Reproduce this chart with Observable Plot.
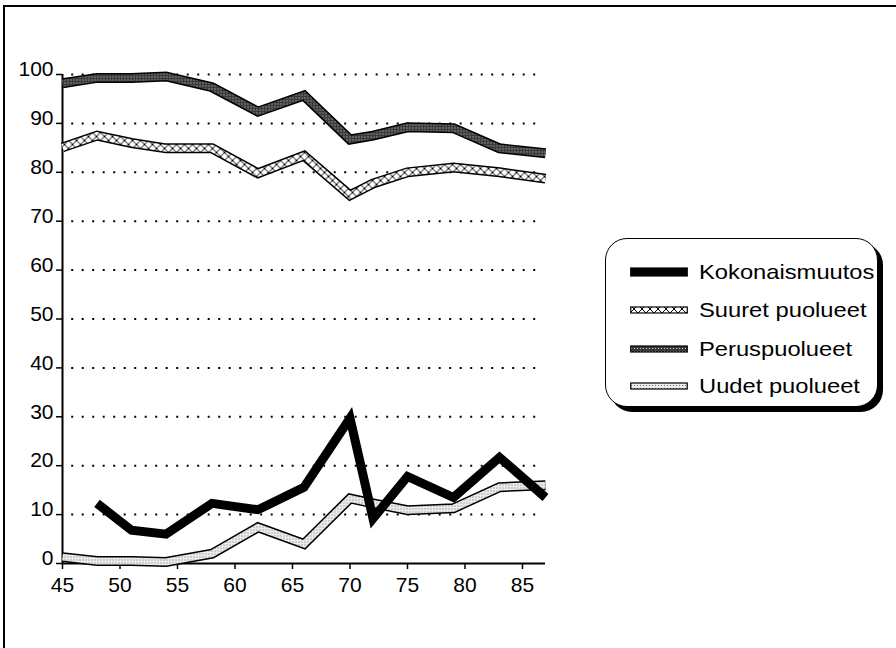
<!DOCTYPE html>
<html>
<head>
<meta charset="utf-8">
<script src="https://cdn.jsdelivr.net/npm/d3@7"></script>
<script src="https://cdn.jsdelivr.net/npm/@observablehq/plot@0.6"></script>
<style>
  html, body { margin: 0; padding: 0; background: #fff; overflow: hidden; }
  body { width: 896px; height: 648px; position: relative; overflow: hidden;
         font-family: "Liberation Sans", Arial, Helvetica, sans-serif; }
  #frame { position: absolute; left: 3px; top: 5px; width: 891px; height: 641px;
           border-top: 2px solid #000; border-left: 2px solid #000; }
  #chart { position: absolute; left: 0; top: 0; }
  #legend { position: absolute; left: 605px; top: 238px; width: 271px; height: 167px;
            border: 1.5px solid #000; border-radius: 22px; box-shadow: 5px 5px 0 #000;
            background: #fff; }
  .row { position: absolute; left: 24px; height: 24px; display: flex; align-items: center; }
  .row svg { display: block; }
  .row span { display: inline-block; margin-left: 11px; font-size: 21px; color: #000;
              transform: scaleX(1.13); transform-origin: left center; white-space: nowrap; }
</style>
</head>
<body>
<svg width="0" height="0" style="position:absolute">
  <defs>
    <pattern id="pSuuret" patternUnits="userSpaceOnUse" width="8" height="8">
      <rect width="8" height="8" fill="#fff"/>
      <path d="M0,0L8,8M8,0L0,8" stroke="#000" stroke-width="1"/>
    </pattern>
    <pattern id="pPerus" patternUnits="userSpaceOnUse" width="3" height="3">
      <rect width="3" height="3" fill="#3a3a3a"/>
      <rect x="1" y="1" width="1" height="1" fill="#d0d0d0"/>
    </pattern>
    <pattern id="pUudet" patternUnits="userSpaceOnUse" width="3" height="3">
      <rect width="3" height="3" fill="#ececec"/>
      <rect x="1" y="1" width="1" height="1" fill="#707070"/>
    </pattern>
  </defs>
</svg>
<div id="frame"></div>
<div id="chart"></div>
<div id="legend"></div>
<script>
// ---- data ----
const years = [45, 48, 51, 54, 58, 62, 66, 70, 72, 75, 79, 83, 87];
const kokonaismuutos = [null, 12.3, 6.8, 6.0, 12.3, 11.0, 15.6, 29.7, 9.2, 17.8, 13.5, 21.7, 13.5];
const suuretPuolueet = [85.1, 87.5, 86.0, 84.9, 84.9, 79.8, 83.4, 75.3, 77.7, 80.0, 81.0, 80.0, 78.7];
const peruspuolueet = [98.2, 99.3, 99.3, 99.6, 97.4, 92.4, 95.7, 86.7, 87.5, 89.2, 89.0, 84.9, 83.9];
const uudetPuolueet = [1.3, 0.5, 0.5, 0.3, 2.0, 7.4, 4.0, 13.3, 12.3, 10.9, 11.3, 15.6, 16.0];
const seriesNames = ["Kokonaismuutos", "Suuret puolueet", "Peruspuolueet", "Uudet puolueet"];
const xTicks = [45, 50, 55, 60, 65, 70, 75, 80, 85];
const yTicks = [0, 10, 20, 30, 40, 50, 60, 70, 80, 90, 100];

const mk = vals => years.map((x, i) => ({x, y: vals[i]})).filter(d => d.y != null);
const dKok = mk(kokonaismuutos), dSuu = mk(suuretPuolueet), dPer = mk(peruspuolueet), dUud = mk(uudetPuolueet);

const lineOpts = {x: "x", y: "y", strokeLinejoin: "miter", strokeLinecap: "butt", strokeMiterlimit: 4};
const outline = d => Plot.line(d, {...lineOpts, stroke: "#000", strokeWidth: 10});
const inner = (d, fill) => Plot.line(d, {...lineOpts, stroke: fill, strokeWidth: 7});

const chart = Plot.plot({
  width: 896,
  height: 648,
  marginLeft: 62,
  marginRight: 351,
  marginTop: 74,
  marginBottom: 85,
  style: {background: "transparent", fontFamily: "'Liberation Sans', Arial, Helvetica, sans-serif", fontSize: "21px", color: "#000"},
  x: {domain: [45, 87], axis: null},
  y: {domain: [0, 100], axis: null},
  marks: [
    // dotted grid
    Plot.ruleY(yTicks.filter(d => d > 0), {y: d => d, x1: 45.8, x2: 86.6, stroke: "#000", strokeWidth: 2, strokeDasharray: "2,8.5"}),
    // axes lines
    Plot.ruleX([45], {x: d => d, y1: 0, y2: 100, stroke: "#000", strokeWidth: 2}),
    Plot.ruleY([0], {y: d => d, x1: 45, x2: 87, stroke: "#000", strokeWidth: 2}),
    // ticks
    Plot.ruleY(yTicks, {y: d => d, x1: 45, x2: 45, insetLeft: -6, stroke: "#000", strokeWidth: 1.5}),
    Plot.ruleX(xTicks, {x: d => d, y1: 0, y2: 0, insetBottom: -6, stroke: "#000", strokeWidth: 1.5}),
    // tick labels
    Plot.text(yTicks, {x: 45, y: d => d, text: d => String(d), textAnchor: "end", dx: -9, dy: -5, fontSize: 21, fill: "#000"}),
    Plot.text(xTicks, {x: d => d, y: 0, text: d => String(d), dy: 22, fontSize: 21, fill: "#000"}),
    // series
    outline(dPer), inner(dPer, "url(#pPerus)"),
    outline(dSuu), inner(dSuu, "url(#pSuuret)"),
    outline(dUud), inner(dUud, "url(#pUudet)"),
    Plot.line(dKok, {...lineOpts, stroke: "#000", strokeWidth: 9})
  ]
});
document.getElementById("chart").appendChild(chart);

// ---- legend ----
const swatchFills = ["#000", "url(#pSuuret)", "url(#pPerus)", "url(#pUudet)"];
const swatchH = [8, 6, 6, 6];
const rowTops = [21, 59, 98, 135];
const legend = d3.select("#legend");
seriesNames.forEach((name, i) => {
  const row = legend.append("div").attr("class", "row").style("top", rowTops[i] + "px");
  const sw = row.append("svg").attr("width", 58).attr("height", 10);
  sw.append("rect").attr("x", 0.75).attr("y", (10 - swatchH[i]) / 2).attr("width", 56.5).attr("height", swatchH[i])
    .attr("fill", swatchFills[i]).attr("stroke", "#000").attr("stroke-width", 1.2);
  row.append("span").text(name);
});
</script>
</body>
</html>
